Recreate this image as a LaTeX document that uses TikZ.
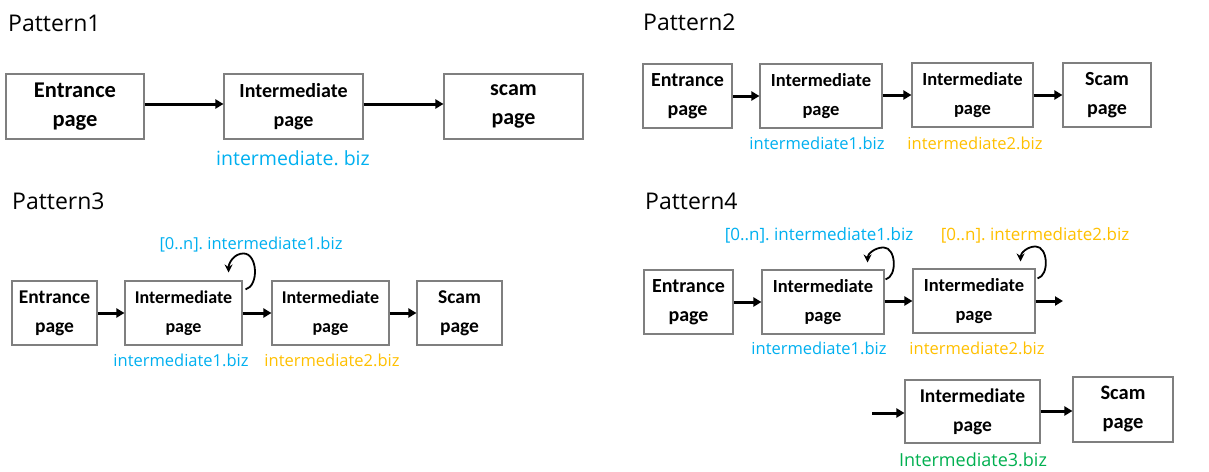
\documentclass[tikz,border=0pt]{standalone}
\usepackage{fontspec}
\setmainfont{Open Sans}
\newfontfamily\carlitofam{Carlito}
\usetikzlibrary{arrows.meta,calc}
\definecolor{lblue}{HTML}{00B0F0}
\definecolor{lorange}{HTML}{FFC000}
\definecolor{lgreen}{HTML}{00B050}
\definecolor{boxgray}{HTML}{7F7F7F}
\newcommand\myfs[2]{\fontsize{#1}{#2}\selectfont}
\tikzset{
  pbox/.style={draw=boxgray, line width=1.1pt, inner sep=0pt, align=center, fill=white},
  bt/.style={font=\carlitofam\bfseries\myfs{19}{27}},
  title/.style={anchor=west, inner sep=0pt, font=\myfs{23}{26}},
  lbl/.style={inner sep=0pt, font=\myfs{16.5}{20}},
  flow/.style={line width=3pt, -{Triangle[length=8pt,width=9pt]}},
  loopar/.style={line width=1.8pt, -{Stealth[length=8pt,width=8pt]}},
}
\begin{document}
\begin{tikzpicture}[x=1pt,y=-1pt]
\useasboundingbox[fill=white] (0,0) rectangle (1209,471);

% ---------- Pattern1 ----------
\node[title] (t1) at (8,23) {Pattern1};
\node[pbox,bt,font=\carlitofam\bfseries\myfs{22.5}{29},minimum width=138pt,minimum height=65pt] (e1) at (75,106.5) {Entrance\\page};
\node[pbox,bt,font=\carlitofam\bfseries\myfs{20}{29},minimum width=139pt,minimum height=65pt] (i1) at (293.5,106.5) {Intermediate\\page};
\node[pbox,bt,font=\carlitofam\bfseries\myfs{22}{29},minimum width=139pt,minimum height=65pt] (s1) at (513.5,106.5) {scam\\page};
\draw[flow] (e1.east |- 0,104) -- (i1.west |- 0,104);
\draw[flow] (i1.east |- 0,104) -- (s1.west |- 0,104);
\node[lbl,text=lblue,font=\myfs{19.5}{22}] (l1) at (293,158) {intermediate.~biz};

% ---------- Pattern2 ----------
\node[title] (t2) at (643,22) {Pattern2};
\node[pbox,bt,font=\carlitofam\bfseries\myfs{20}{29},minimum width=89pt,minimum height=64pt] (e2) at (687.5,96) {Entrance\\page};
\node[pbox,bt,font=\carlitofam\bfseries\myfs{18.5}{29},minimum width=122pt,minimum height=64pt] (i2a) at (821,96) {Intermediate\\page};
\node[pbox,bt,font=\carlitofam\bfseries\myfs{18.5}{29},minimum width=121pt,minimum height=64pt] (i2b) at (972.5,95) {Intermediate\\page};
\node[pbox,bt,font=\carlitofam\bfseries\myfs{20}{29},minimum width=88pt,minimum height=64pt] (s2) at (1107,95) {Scam\\page};
\draw[flow] (e2.east |- 0,96) -- (i2a.west |- 0,96);
\draw[flow] (i2a.east |- 0,95) -- (i2b.west |- 0,95);
\draw[flow] (i2b.east |- 0,95) -- (s2.west |- 0,95);
\node[lbl,text=lblue] (l2a) at (817,143) {intermediate1.biz};
\node[lbl,text=lorange] (l2b) at (975,143) {intermediate2.biz};

% ---------- Pattern3 ----------
\node[title] (t3) at (12,201) {Pattern3};
\node[pbox,bt,font=\carlitofam\bfseries\myfs{19.5}{29},minimum width=85pt,minimum height=64pt] (e3) at (54.5,313) {Entrance\\page};
\node[pbox,bt,font=\carlitofam\bfseries\myfs{18}{29},minimum width=117pt,minimum height=64pt] (i3a) at (183.5,313) {Intermediate\\page};
\node[pbox,bt,font=\carlitofam\bfseries\myfs{18}{29},minimum width=117pt,minimum height=64pt] (i3b) at (330.5,313) {Intermediate\\page};
\node[pbox,bt,font=\carlitofam\bfseries\myfs{19.5}{29},minimum width=85pt,minimum height=64pt] (s3) at (459.5,313) {Scam\\page};
\draw[flow] (e3) -- (i3a);
\draw[flow] (i3a) -- (i3b);
\draw[flow] (i3b) -- (s3);
\draw[loopar] ($(i3a.north east)+(3,9)$) to[out=15,in=0] ($(i3a.north east)+(1,-27)$) to[out=180,in=90] ($(i3a.north east)+(-14,-8)$);
\node[lbl,text=lblue] (l3t) at (251,245) {[0..n].~intermediate1.biz};
\node[lbl,text=lblue] (l3a) at (181,360) {intermediate1.biz};
\node[lbl,text=lorange] (l3b) at (332,360) {intermediate2.biz};

% ---------- Pattern4 ----------
\node[title] (t4) at (645,201) {Pattern4};
\node[pbox,bt,font=\carlitofam\bfseries\myfs{20}{29},minimum width=89pt,minimum height=64pt] (e4) at (688.5,302) {Entrance\\page};
\node[pbox,bt,font=\carlitofam\bfseries\myfs{18.5}{29},minimum width=122pt,minimum height=64pt] (i4a) at (823,302) {Intermediate\\page};
\node[pbox,bt,font=\carlitofam\bfseries\myfs{18.5}{29},minimum width=122pt,minimum height=64pt] (i4b) at (974,301) {Intermediate\\page};
\coordinate (o4) at (1063,301);
\draw[flow] (e4) -- (i4a);
\draw[flow] (i4a.east |- 0,301) -- (i4b.west |- 0,301);
\draw[flow] (i4b.east) -- (o4);
\draw[loopar] ($(i4a.north east)+(1,10)$) to[out=15,in=0] ($(i4a.north east)+(-1,-22)$) to[out=180,in=90] ($(i4a.north east)+(-17,-7)$);
\draw[loopar] ($(i4b.north east)+(2,10)$) to[out=15,in=0] ($(i4b.north east)+(0,-22)$) to[out=180,in=90] ($(i4b.north east)+(-15,-7)$);
\node[lbl,text=lblue,font=\myfs{17}{20}] (l4t1) at (819,235) {[0..n].~intermediate1.biz};
\node[lbl,text=lorange,font=\myfs{17}{20}] (l4t2) at (1035,235) {[0..n].~intermediate2.biz};
\node[lbl,text=lblue] (l4a) at (819,348) {intermediate1.biz};
\node[lbl,text=lorange] (l4b) at (977,348) {intermediate2.biz};

\node[pbox,bt,font=\carlitofam\bfseries\myfs{19.5}{29},minimum width=135pt,minimum height=63pt] (i4c) at (972.5,411.5) {Intermediate\\page};
\node[pbox,bt,font=\carlitofam\bfseries\myfs{20.5}{29},minimum width=100pt,minimum height=65pt] (s4) at (1123,409.5) {Scam\\page};
\coordinate (in4) at (872,413);
\draw[flow] (in4) -- (in4 -| i4c.west);
\draw[flow] (i4c.east |- 0,411) -- (s4.west |- 0,411);
\node[lbl,text=lgreen,font=\myfs{18}{20}] (l4c) at (973,460) {Intermediate3.biz};
\end{tikzpicture}
\end{document}
